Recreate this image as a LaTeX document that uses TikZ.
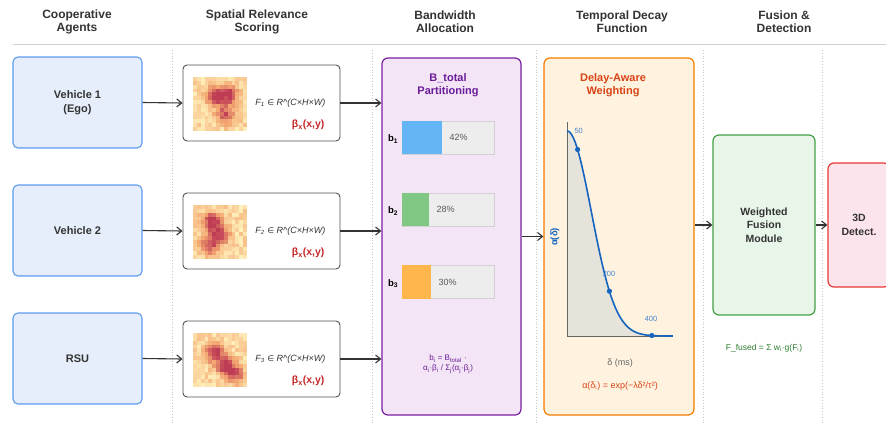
\documentclass[tikz,border=0pt]{standalone}
\usepackage{fontspec}
\setmainfont{Liberation Sans}
\newfontfamily\symf{DejaVu Sans}
\usetikzlibrary{arrows.meta}

\definecolor{ink}{HTML}{333333}
\definecolor{agentfill}{HTML}{E6EEFB}
\definecolor{agentline}{HTML}{5B9BEF}
\definecolor{bwfill}{HTML}{F3E5F5}
\definecolor{bwline}{HTML}{7B1FA2}
\definecolor{bwtext}{HTML}{6A1B9A}
\definecolor{decfill}{HTML}{FFF3E0}
\definecolor{decline}{HTML}{F57C00}
\definecolor{dectext}{HTML}{D84315}
\definecolor{fusfill}{HTML}{E8F5E9}
\definecolor{fusline}{HTML}{43A047}
\definecolor{fustext}{HTML}{2E7D32}
\definecolor{detfill}{HTML}{FCE4EC}
\definecolor{detline}{HTML}{E53935}
\definecolor{betared}{HTML}{C62828}
\definecolor{curveblue}{HTML}{1565C0}
\definecolor{areagray}{HTML}{E6E3DB}
\definecolor{barblue}{HTML}{64B5F6}
\definecolor{bargreen}{HTML}{81C784}
\definecolor{barorange}{HTML}{FFB74D}
\definecolor{hlo}{HTML}{FFF1BC}
\definecolor{hmid}{HTML}{F4A871}
\definecolor{hhi}{HTML}{BE3A55}

% heat map: x0, y0, then three blob centres (u,v in 0..1)
\newcommand{\heatmap}[8]{%
  \foreach \i in {0,...,13}{\foreach \j in {0,...,13}{
    \pgfmathsetmacro\u{(\i+0.5)/14}
    \pgfmathsetmacro\v{(\j+0.5)/14}
    \pgfmathsetmacro\p{min(99,90*exp(-((\u-#3)*(\u-#3)+(\v-#4)*(\v-#4))/0.03)
      +80*exp(-((\u-#5)*(\u-#5)+(\v-#6)*(\v-#6))/0.03)
      +70*exp(-((\u-#7)*(\u-#7)+(\v-#8)*(\v-#8))/0.03)+30*rnd)}
    \ifdim\p pt<45pt
      \pgfmathsetmacro\q{\p/45*100}
      \fill[hmid!\q!hlo] ({#1+\i*54/14},{#2+\j*54/14}) rectangle ++(3.95,3.95);
    \else
      \pgfmathsetmacro\q{(\p-45)/55*100}
      \fill[hhi!\q!hmid] ({#1+\i*54/14},{#2+\j*54/14}) rectangle ++(3.95,3.95);
    \fi
  }}%
}

\begin{document}
\begin{tikzpicture}[x=1pt,y=-1pt,
  hdr/.style={align=center,font=\bfseries\fontsize{12}{13}\selectfont,text=ink},
  agent/.style={draw=agentline,fill=agentfill,line width=1.1pt,rounded corners=5pt,
    minimum width=129pt,minimum height=91pt,align=center,
    font=\bfseries\fontsize{11}{14}\selectfont,text=ink},
  featbox/.style={draw=ink!85,fill=white,line width=0.9pt,rounded corners=4pt,
    minimum width=157pt,minimum height=76pt},
  barbg/.style={draw=black!18,fill=black!7,line width=0.7pt,minimum width=92pt,minimum height=33pt},
  barpct/.style={anchor=west,font=\fontsize{9}{10}\selectfont,text=black!65},
  barlbl/.style={font=\bfseries\fontsize{9.5}{10}\selectfont,text=black},
  flow/.style={draw=ink,line width=1.1pt,-{Straight Barb[length=5pt,width=8pt]}},
  sep/.style={black!22,dotted,line width=0.8pt}]
\useasboundingbox (0,0) rectangle (886,424);

% column headings
\node[hdr] (hA) at (77,22) {Cooperative\\Agents};
\node[hdr] (hB) at (257,22) {Spatial Relevance\\Scoring};
\node[hdr] (hC) at (445,22) {Bandwidth\\Allocation};
\node[hdr] (hD) at (622,22) {Temporal Decay\\Function};
\node[hdr] (hE) at (784,22) {Fusion \&\\Detection};
\draw[black!18,line width=0.9pt] (13,44) -- (886,44);
\foreach \sx in {172,372,536,703,822}
  \draw[sep] (\sx,50) -- (\sx,424);

% agents
\node[agent] (v1) at (77.5,102.5) {Vehicle 1\\(Ego)};
\node[agent] (v2) at (77.5,230.5) {Vehicle 2};
\node[agent] (rsu) at (77.5,358.5) {RSU};

% spatial relevance boxes
\pgfmathsetseed{11}
\foreach \k/\yc in {1/103,2/231,3/359}{
  \node[featbox] (f\k) at (261.5,\yc) {};
  \node[anchor=east,font=\itshape\fontsize{9}{10}\selectfont,text=ink] (fm\k) at (329,\yc)
    {F\textsubscript{\k} {\upshape\symf\fontsize{8}{10}\selectfont ∈} R\^{}(C×H×W)};
  \node[anchor=east,font=\bfseries\fontsize{10.5}{12}\selectfont,text=betared] (fb\k) at (328,\yc+22)
    {β\textsubscript{x}(x,y)};
}
\heatmap{193}{77}{0.42}{0.35}{0.68}{0.33}{0.6}{0.7}
\heatmap{193}{205}{0.35}{0.3}{0.5}{0.55}{0.3}{0.75}
\heatmap{193}{333}{0.4}{0.35}{0.6}{0.6}{0.78}{0.78}

% bandwidth allocation
\node[draw=bwline,fill=bwfill,line width=1.2pt,rounded corners=6pt,
  minimum width=139pt,minimum height=357pt] (bw) at (451.5,236.5) {};
\node[align=center,font=\bfseries\fontsize{11}{13}\selectfont,text=bwtext] (bwt) at (448,85)
  {B\_total\\Partitioning};
\node[barbg] (bar1) at (448,137.5) {};
\node[barbg] (bar2) at (448,209.5) {};
\node[barbg] (bar3) at (448,282) {};
\fill[barblue] (bar1.north west) rectangle ([xshift=40pt]bar1.south west);
\fill[bargreen] (bar2.north west) rectangle ([xshift=27pt]bar2.south west);
\fill[barorange] (bar3.north west) rectangle ([xshift=29pt]bar3.south west);
\node[barpct] (p1) at (446,137.5) {42\%};
\node[barpct] (p2) at (433,209.5) {28\%};
\node[barpct] (p3) at (435,282) {30\%};
\node[barlbl] (b1) at (393,139) {b\textsubscript{1}};
\node[barlbl] (b2) at (393,211) {b\textsubscript{2}};
\node[barlbl] (b3) at (393,283.5) {b\textsubscript{3}};
\node[align=center,font=\fontsize{8}{10}\selectfont,text=bwtext] (bwf) at (448,364)
  {b\textsubscript{i} = B\textsubscript{total} ·\\α\textsubscript{i}·β\textsubscript{i} / Σ\textsubscript{j}(α\textsubscript{j}·β\textsubscript{j})};

% temporal decay
\node[draw=decline,fill=decfill,line width=1.2pt,rounded corners=6pt,
  minimum width=150pt,minimum height=357pt] (dec) at (619,236.5) {};
\node[align=center,font=\bfseries\fontsize{11}{13}\selectfont,text=dectext] (dect) at (613,85)
  {Delay-Aware\\Weighting};
\fill[areagray] (567,336) -- plot[domain=0:5,samples=80]
  ({567+21.2*\x},{336-205*exp(-0.38*\x*\x)}) -- cycle;
\draw[black!60,line width=0.8pt] (567,122) -- (567,336) -- (673,336);
\draw[curveblue,line width=1.6pt] plot[domain=0:5,samples=80]
  ({567+21.2*\x},{336-205*exp(-0.38*\x*\x)});
\foreach \d in {0.5,2,4}
  \fill[curveblue] ({567+21.2*\d},{336-205*exp(-0.38*\d*\d)}) circle (2.6pt);
\node[anchor=west,font=\fontsize{7.5}{8}\selectfont,text=curveblue!80] (t50) at (571,131) {50};
\node[font=\fontsize{7.5}{8}\selectfont,text=curveblue!80] (t200) at (609,274) {200};
\node[font=\fontsize{7.5}{8}\selectfont,text=curveblue!80] (t400) at (651,319) {400};
\node[rotate=90,font=\bfseries\fontsize{9.5}{10}\selectfont,text=curveblue] (ylab) at (555,237) {α(δ)};
\node[font=\fontsize{9}{10}\selectfont,text=black!60] (xlab) at (620,363) {δ (ms)};
\node[font=\fontsize{9}{10}\selectfont,text=dectext] (decf) at (620,386)
  {α(δ\textsubscript{i}) = exp(−λδ²/τ²)};

% fusion and detection
\node[draw=fusline,fill=fusfill,line width=1.2pt,rounded corners=6pt,
  minimum width=102pt,minimum height=180pt,align=center,
  font=\bfseries\fontsize{10.5}{13.5}\selectfont,text=ink] (fus) at (764,225)
  {Weighted\\Fusion\\Module};
\node[font=\fontsize{8.5}{10}\selectfont,text=fustext] (fusf) at (764,348)
  {F\_fused = Σ w\textsubscript{i}·g(F\textsubscript{i})};
\node[draw=detline,fill=detfill,line width=1.2pt,rounded corners=6pt,
  minimum width=62pt,minimum height=124pt,align=center,
  font=\bfseries\fontsize{10.5}{13.5}\selectfont,text=ink] (det) at (859,225)
  {3D\\Detect.};

% connectors
\draw[flow] (v1.east) -- (f1.west);
\draw[flow] (v2.east) -- (f2.west);
\draw[flow] (rsu.east) -- (f3.west);
\foreach \k in {1,2,3}
  \draw[flow] (f\k.east) -- (f\k.east -| bw.west);
\draw[flow] (bw.east) -- (dec.west);
\draw[flow] (dec.east |- fus.west) -- (fus.west);
\draw[flow] (fus.east) -- (det.west);
\end{tikzpicture}
\end{document}
